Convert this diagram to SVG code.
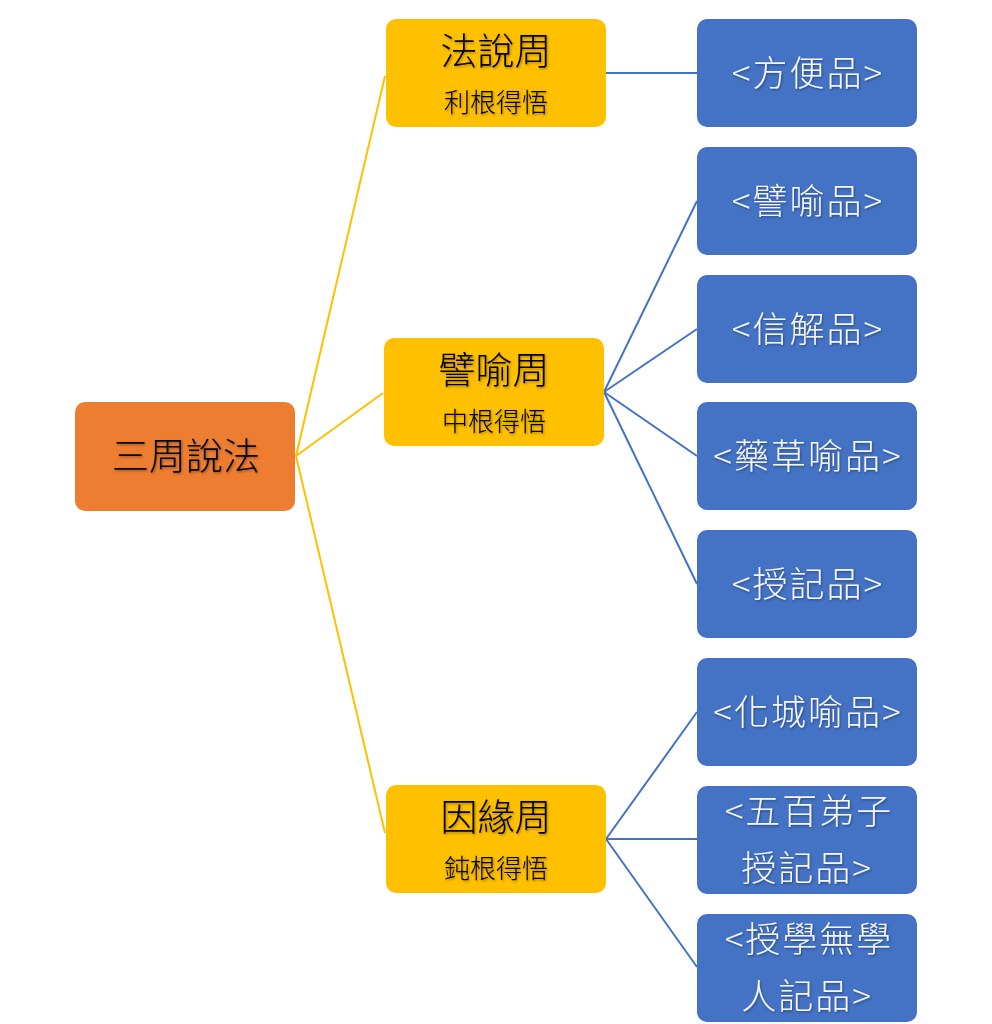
<svg xmlns="http://www.w3.org/2000/svg" width="992" height="1024" viewBox="0 0 992 1024">
<defs>
<filter id="sh" x="-10%" y="-20%" width="130%" height="150%">
<feDropShadow dx="1" dy="1.3" stdDeviation="1" flood-color="#000" flood-opacity="0.35"/>
</filter>
</defs>
<style>
text{font-family:"Noto Sans CJK TC","Noto Sans CJK SC",sans-serif;text-anchor:middle;filter:url(#sh);font-weight:300}
.root rect{fill:#ED7D31}
.mid rect{fill:#FFC000}
.leaf rect{fill:#4472C4}
.dark{fill:#000}
.t{font-size:37px}
.s{font-size:26px}
.w{fill:#F4F6FA;font-size:35px;letter-spacing:2px}
.cy{stroke:#FFC000;stroke-width:2;fill:none}
.cb{stroke:#4472C4;stroke-width:2;fill:none}
</style>
<rect width="992" height="1024" fill="#FFFFFF"/>
<g id="connectors">
<line class="cy" x1="296" y1="456" x2="385" y2="76"/>
<line class="cy" x1="296" y1="456" x2="383" y2="393"/>
<line class="cy" x1="296" y1="456" x2="385" y2="833"/>
<line class="cb" x1="606" y1="73" x2="697" y2="73"/>
<line class="cb" x1="604" y1="392" x2="697" y2="201"/>
<line class="cb" x1="604" y1="392" x2="697" y2="329"/>
<line class="cb" x1="604" y1="392" x2="697" y2="456"/>
<line class="cb" x1="604" y1="392" x2="697" y2="584"/>
<line class="cb" x1="606" y1="839" x2="697" y2="712"/>
<line class="cb" x1="606" y1="839" x2="697" y2="839"/>
<line class="cb" x1="606" y1="839" x2="697" y2="967"/>
</g>
<g id="root" class="root">
<rect x="75" y="402" width="220" height="109" rx="10"/>
<text class="dark t" x="186" y="470">三周說法</text>
</g>
<g id="n1" class="mid">
<rect x="386" y="19" width="220" height="108" rx="10"/>
<text class="dark t" x="496" y="65">法說周</text>
<text class="dark s" x="496" y="112">利根得悟</text>
</g>
<g id="n2" class="mid">
<rect x="384" y="338" width="220" height="108" rx="10"/>
<text class="dark t" x="494" y="384">譬喻周</text>
<text class="dark s" x="494" y="431">中根得悟</text>
</g>
<g id="n3" class="mid">
<rect x="386" y="785" width="220" height="108" rx="10"/>
<text class="dark t" x="496" y="831">因緣周</text>
<text class="dark s" x="496" y="878">鈍根得悟</text>
</g>
<g id="l1" class="leaf">
<rect x="697" y="19" width="220" height="108" rx="10"/>
<text class="w" x="808" y="86">&lt;方便品&gt;</text>
</g>
<g id="l2" class="leaf">
<rect x="697" y="147" width="220" height="108" rx="10"/>
<text class="w" x="808" y="214">&lt;譬喻品&gt;</text>
</g>
<g id="l3" class="leaf">
<rect x="697" y="275" width="220" height="108" rx="10"/>
<text class="w" x="808" y="342">&lt;信解品&gt;</text>
</g>
<g id="l4" class="leaf">
<rect x="697" y="402" width="220" height="108" rx="10"/>
<text class="w" x="808" y="469">&lt;藥草喻品&gt;</text>
</g>
<g id="l5" class="leaf">
<rect x="697" y="530" width="220" height="108" rx="10"/>
<text class="w" x="808" y="597">&lt;授記品&gt;</text>
</g>
<g id="l6" class="leaf">
<rect x="697" y="658" width="220" height="108" rx="10"/>
<text class="w" x="808" y="725">&lt;化城喻品&gt;</text>
</g>
<g id="l7" class="leaf">
<rect x="697" y="786" width="220" height="108" rx="10"/>
<text class="w" x="809" y="824">&lt;五百弟子</text>
<text class="w" x="807" y="881">授記品&gt;</text>
</g>
<g id="l8" class="leaf">
<rect x="697" y="914" width="220" height="108" rx="10"/>
<text class="w" x="809" y="952">&lt;授學無學</text>
<text class="w" x="807" y="1009">人記品&gt;</text>
</g>
</svg>
